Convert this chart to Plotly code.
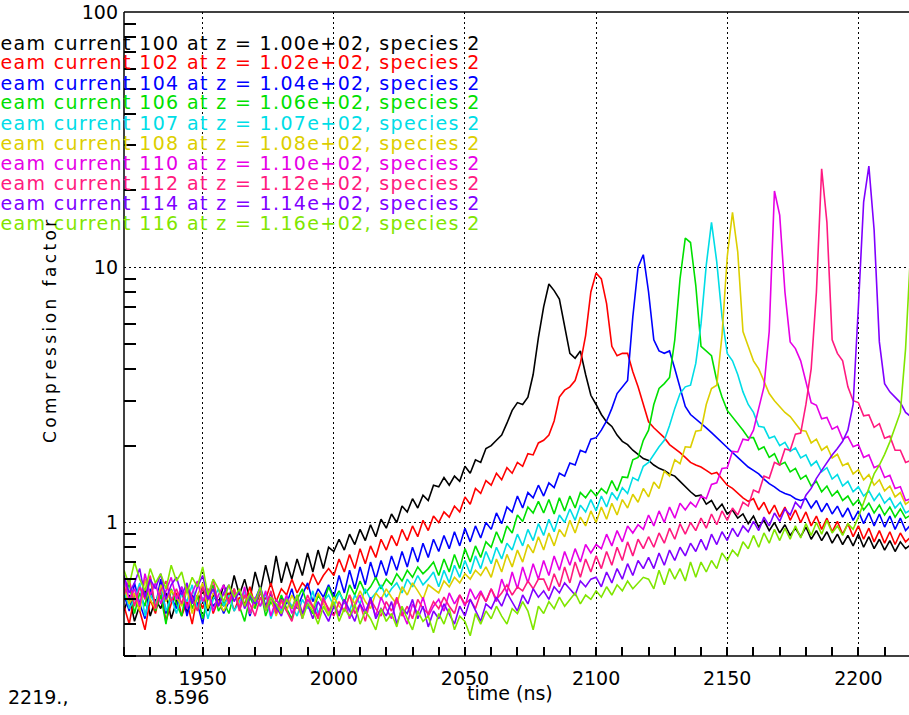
import plotly.graph_objects as go

# sample times (ns), 2-ns bins
time_ns = list(range(1920, 2221, 2))

labels = ["100", "102", "104", "106", "107", "108", "110", "112", "114", "116"]
z_values = ["1.00e+02", "1.02e+02", "1.04e+02", "1.06e+02", "1.07e+02",
            "1.08e+02", "1.10e+02", "1.12e+02", "1.14e+02", "1.16e+02"]
colors = ["#000000", "#ff0000", "#0000ff", "#00e000", "#00dde6",
          "#dccf00", "#e600e6", "#ff1a80", "#8000ff", "#80e600"]

cf_100 = [0.45,0.52,0.41,0.48,0.55,0.43,0.50,0.46,0.53,0.42,
          0.49,0.55,0.44,0.51,0.47,0.56,0.45,0.52,0.48,0.57,
          0.50,0.62,0.52,0.60,0.50,0.64,0.54,0.68,0.56,0.74,
          0.58,0.70,0.60,0.72,0.62,0.76,0.64,0.78,0.66,0.80,
          0.77,0.86,0.78,0.90,0.82,0.94,0.85,0.98,0.88,1.03,
          0.95,1.08,1.00,1.16,1.10,1.24,1.14,1.28,1.22,1.40,
          1.38,1.50,1.40,1.52,1.45,1.66,1.56,1.76,1.72,1.95,
          2.00,2.10,2.20,2.45,2.75,2.95,2.90,3.10,3.80,5.30,
          7.00,8.60,8.10,7.50,5.90,4.60,4.40,4.70,3.80,3.15,
          2.90,2.65,2.48,2.38,2.20,2.08,2.02,1.92,1.85,1.78,
          1.75,1.68,1.63,1.60,1.55,1.52,1.45,1.38,1.32,1.27,
          1.28,1.18,1.22,1.12,1.18,1.08,1.12,1.04,1.08,0.99,
          1.06,0.96,1.02,0.93,1.00,0.91,0.98,0.89,0.95,0.88,
          0.96,0.86,0.93,0.85,0.92,0.83,0.90,0.82,0.89,0.81,
          0.90,0.80,0.88,0.79,0.86,0.78,0.85,0.77,0.84,0.79,
          0.82]

cf_102 = [0.47,0.40,0.52,0.45,0.38,0.50,0.44,0.55,0.41,0.48,
          0.53,0.43,0.49,0.40,0.52,0.46,0.55,0.44,0.50,0.47,
          0.53,0.45,0.51,0.48,0.56,0.47,0.53,0.50,0.58,0.49,
          0.55,0.52,0.60,0.53,0.58,0.55,0.63,0.57,0.62,0.66,
          0.62,0.72,0.64,0.75,0.66,0.79,0.69,0.81,0.73,0.86,
          0.78,0.89,0.81,0.94,0.85,0.97,0.88,1.02,0.93,1.06,
          1.00,1.10,1.05,1.16,1.10,1.26,1.18,1.36,1.30,1.46,
          1.40,1.56,1.47,1.64,1.56,1.72,1.66,1.86,1.84,2.05,
          2.10,2.20,2.50,3.10,3.30,3.40,3.60,4.20,5.40,8.00,
          9.50,9.00,7.20,4.90,4.50,4.60,4.60,3.90,3.40,2.90,
          2.48,2.35,2.25,2.15,2.02,1.95,1.88,1.80,1.72,1.68,
          1.65,1.60,1.55,1.57,1.48,1.40,1.36,1.30,1.25,1.21,
          1.24,1.12,1.20,1.08,1.17,1.05,1.15,1.02,1.12,1.00,
          1.10,0.97,1.06,0.94,1.04,0.92,1.01,0.90,0.99,0.88,
          0.97,0.86,0.95,0.84,0.93,0.83,0.92,0.82,0.91,0.84,
          0.88]

cf_104 = [0.52,0.45,0.58,0.48,0.42,0.55,0.47,0.60,0.44,0.51,
          0.46,0.56,0.43,0.52,0.48,0.40,0.54,0.47,0.50,0.44,
          0.49,0.55,0.46,0.52,0.43,0.50,0.56,0.47,0.53,0.45,
          0.51,0.48,0.55,0.46,0.52,0.58,0.49,0.55,0.51,0.57,
          0.51,0.62,0.53,0.65,0.55,0.67,0.57,0.70,0.60,0.71,
          0.62,0.74,0.65,0.77,0.67,0.80,0.70,0.83,0.73,0.86,
          0.77,0.89,0.79,0.92,0.81,0.95,0.84,0.97,0.87,1.00,
          0.94,1.09,0.99,1.15,1.10,1.27,1.14,1.31,1.25,1.40,
          1.27,1.43,1.37,1.56,1.52,1.71,1.68,1.92,1.88,2.12,
          2.15,2.30,2.50,2.80,3.20,3.40,3.60,6.40,10.0,11.2,
          8.00,5.20,4.70,4.60,4.70,4.00,3.35,2.85,2.65,2.55,
          2.45,2.35,2.25,2.15,2.05,1.95,1.88,1.80,1.72,1.65,
          1.60,1.55,1.48,1.42,1.38,1.33,1.30,1.28,1.24,1.22,
          1.24,1.14,1.22,1.10,1.19,1.08,1.16,1.05,1.14,1.02,
          1.11,0.99,1.09,0.97,1.08,0.96,1.06,0.94,1.04,0.93,
          0.98]

cf_106 = [0.50,0.58,0.44,0.53,0.47,0.61,0.45,0.52,0.40,0.55,
          0.48,0.43,0.56,0.46,0.52,0.42,0.50,0.57,0.45,0.49,
          0.44,0.53,0.47,0.41,0.51,0.46,0.55,0.43,0.49,0.45,
          0.52,0.46,0.42,0.50,0.55,0.47,0.44,0.52,0.48,0.56,
          0.50,0.54,0.48,0.57,0.52,0.59,0.53,0.56,0.61,0.55,
          0.60,0.57,0.63,0.59,0.65,0.61,0.67,0.63,0.66,0.70,
          0.62,0.72,0.64,0.75,0.66,0.79,0.70,0.81,0.73,0.84,
          0.80,0.92,0.83,0.97,0.91,1.07,1.01,1.15,1.09,1.21,
          1.09,1.23,1.08,1.25,1.11,1.27,1.14,1.31,1.25,1.34,
          1.27,1.36,1.30,1.46,1.33,1.51,1.50,1.76,1.80,2.10,
          2.30,2.90,3.35,3.50,3.70,5.20,9.00,13.0,12.5,8.50,
          4.90,4.70,4.50,3.60,3.10,2.75,2.60,2.45,2.30,2.15,
          2.15,1.93,1.98,1.80,1.86,1.68,1.72,1.58,1.63,1.48,
          1.53,1.39,1.45,1.32,1.39,1.27,1.33,1.22,1.27,1.17,
          1.23,1.12,1.19,1.09,1.17,1.07,1.15,1.05,1.13,1.04,
          1.07]

cf_107 = [0.55,0.46,0.50,0.58,0.43,0.52,0.48,0.56,0.45,0.51,
          0.44,0.53,0.49,0.57,0.46,0.51,0.42,0.50,0.55,0.47,
          0.52,0.45,0.49,0.54,0.44,0.50,0.47,0.53,0.42,0.48,
          0.45,0.51,0.47,0.43,0.50,0.46,0.54,0.44,0.49,0.52,
          0.47,0.53,0.49,0.45,0.52,0.48,0.55,0.50,0.53,0.57,
          0.51,0.55,0.58,0.53,0.60,0.56,0.62,0.57,0.60,0.64,
          0.56,0.65,0.58,0.68,0.61,0.71,0.63,0.74,0.66,0.77,
          0.69,0.80,0.72,0.83,0.78,0.90,0.81,0.94,0.85,0.99,
          0.89,1.03,0.92,1.07,1.00,1.13,1.02,1.17,1.10,1.23,
          1.11,1.27,1.15,1.31,1.23,1.37,1.30,1.50,1.46,1.66,
          1.72,1.85,1.98,2.10,2.40,2.80,3.20,3.40,3.45,4.20,
          6.00,10.2,15.0,10.5,6.40,4.60,4.30,3.80,3.25,2.90,
          2.70,2.38,2.36,2.14,2.18,2.00,2.06,1.90,1.96,1.79,
          1.84,1.67,1.74,1.58,1.64,1.48,1.54,1.39,1.45,1.32,
          1.38,1.27,1.33,1.22,1.30,1.19,1.25,1.14,1.20,1.09,
          1.12]

cf_108 = [0.56,0.48,0.53,0.45,0.60,0.50,0.46,0.57,0.49,0.54,
          0.51,0.47,0.55,0.44,0.52,0.58,0.46,0.53,0.49,0.45,
          0.50,0.55,0.47,0.52,0.44,0.49,0.54,0.46,0.51,0.43,
          0.49,0.45,0.52,0.47,0.43,0.50,0.46,0.53,0.48,0.44,
          0.51,0.47,0.45,0.52,0.48,0.54,0.49,0.46,0.53,0.50,
          0.55,0.51,0.48,0.56,0.52,0.58,0.54,0.50,0.57,0.55,
          0.53,0.59,0.56,0.61,0.58,0.63,0.60,0.65,0.62,0.67,
          0.61,0.72,0.64,0.75,0.67,0.78,0.70,0.82,0.76,0.88,
          0.78,0.91,0.81,0.94,0.88,1.02,0.91,1.05,0.97,1.11,
          1.00,1.15,1.03,1.19,1.07,1.23,1.14,1.29,1.20,1.36,
          1.26,1.44,1.36,1.59,1.52,1.76,1.70,1.98,1.97,2.28,
          2.30,2.90,3.35,3.45,5.40,11.0,16.4,11.5,5.60,4.90,
          4.30,4.00,3.60,3.20,3.00,2.85,2.70,2.60,2.45,2.30,
          2.28,2.05,2.12,1.92,1.99,1.79,1.85,1.67,1.71,1.55,
          1.61,1.47,1.54,1.40,1.47,1.33,1.39,1.26,1.31,1.18,
          1.22]

cf_110 = [0.60,0.50,0.55,0.47,0.63,0.52,0.58,0.48,0.54,0.61,
          0.50,0.56,0.46,0.53,0.59,0.49,0.55,0.45,0.52,0.57,
          0.48,0.53,0.46,0.56,0.44,0.51,0.47,0.54,0.43,0.50,
          0.46,0.52,0.44,0.49,0.42,0.50,0.47,0.43,0.51,0.45,
          0.48,0.44,0.50,0.42,0.47,0.52,0.45,0.49,0.43,0.51,
          0.46,0.42,0.50,0.45,0.40,0.48,0.44,0.51,0.43,0.47,
          0.50,0.45,0.53,0.48,0.52,0.47,0.55,0.50,0.54,0.49,
          0.55,0.49,0.60,0.53,0.64,0.55,0.67,0.58,0.69,0.60,
          0.71,0.62,0.74,0.65,0.77,0.68,0.79,0.70,0.82,0.76,
          0.82,0.79,0.90,0.81,0.93,0.84,0.97,0.91,0.98,0.94,
          1.07,0.97,1.11,1.00,1.15,1.04,1.19,1.12,1.20,1.15,
          1.27,1.24,1.41,1.43,1.63,1.64,1.90,1.89,2.12,2.10,
          2.30,2.80,3.40,5.60,19.9,16.0,8.00,5.10,4.80,4.30,
          3.60,2.95,2.88,2.55,2.58,2.32,2.38,2.12,2.17,1.98,
          2.02,1.80,1.84,1.64,1.68,1.50,1.53,1.36,1.38,1.22,
          1.24]

cf_112 = [0.52,0.60,0.47,0.56,0.50,0.62,0.46,0.54,0.59,0.49,
          0.55,0.48,0.57,0.51,0.45,0.56,0.50,0.60,0.47,0.53,
          0.49,0.55,0.45,0.52,0.48,0.43,0.51,0.46,0.54,0.44,
          0.50,0.45,0.41,0.49,0.44,0.52,0.47,0.42,0.50,0.46,
          0.43,0.49,0.45,0.52,0.44,0.48,0.41,0.50,0.46,0.43,
          0.49,0.45,0.51,0.43,0.47,0.42,0.50,0.46,0.44,0.49,
          0.46,0.51,0.47,0.44,0.52,0.48,0.50,0.46,0.53,0.49,
          0.55,0.50,0.53,0.57,0.52,0.56,0.54,0.59,0.55,0.60,
          0.60,0.54,0.63,0.56,0.67,0.58,0.70,0.61,0.72,0.64,
          0.74,0.66,0.77,0.68,0.80,0.71,0.84,0.74,0.86,0.79,
          0.88,0.80,0.91,0.83,0.95,0.86,0.99,0.90,1.00,0.93,
          1.04,0.95,1.08,0.98,1.11,1.02,1.14,1.07,1.20,1.16,
          1.34,1.31,1.52,1.49,1.72,1.68,1.94,1.92,2.22,2.24,
          2.90,4.00,8.00,24.3,15.0,5.20,4.60,4.30,3.40,3.00,
          2.95,2.62,2.64,2.36,2.44,2.14,2.18,1.92,1.92,1.72,
          1.75]

cf_114 = [0.62,0.53,0.58,0.66,0.51,0.60,0.55,0.63,0.50,0.57,
          0.61,0.52,0.58,0.48,0.56,0.62,0.50,0.55,0.47,0.53,
          0.57,0.49,0.54,0.46,0.52,0.48,0.55,0.45,0.51,0.47,
          0.43,0.50,0.46,0.52,0.44,0.48,0.42,0.49,0.45,0.41,
          0.47,0.43,0.50,0.45,0.41,0.48,0.44,0.51,0.42,0.46,
          0.43,0.49,0.40,0.46,0.44,0.50,0.42,0.47,0.39,0.45,
          0.42,0.48,0.44,0.40,0.47,0.43,0.50,0.45,0.41,0.48,
          0.46,0.51,0.47,0.53,0.49,0.45,0.52,0.48,0.55,0.51,
          0.54,0.50,0.56,0.53,0.58,0.55,0.52,0.59,0.56,0.60,
          0.61,0.56,0.64,0.58,0.66,0.60,0.69,0.62,0.71,0.66,
          0.73,0.66,0.76,0.68,0.78,0.71,0.80,0.74,0.83,0.77,
          0.86,0.78,0.90,0.82,0.92,0.85,0.95,0.88,0.97,0.92,
          1.01,0.93,1.05,0.97,1.09,1.01,1.13,1.07,1.20,1.14,
          1.28,1.36,1.49,1.60,1.72,1.84,1.95,2.08,2.30,2.90,
          7.00,18.0,24.9,14.0,5.10,3.50,3.25,3.10,2.95,2.70,
          2.60]

cf_116 = [0.65,0.57,0.70,0.60,0.54,0.66,0.58,0.63,0.55,0.68,
          0.59,0.64,0.53,0.61,0.56,0.67,0.52,0.60,0.55,0.49,
          0.57,0.51,0.55,0.47,0.53,0.49,0.56,0.45,0.51,0.48,
          0.44,0.50,0.46,0.52,0.42,0.48,0.45,0.40,0.47,0.43,
          0.49,0.41,0.46,0.43,0.48,0.40,0.45,0.42,0.38,0.46,
          0.41,0.44,0.39,0.47,0.42,0.38,0.45,0.41,0.43,0.37,
          0.44,0.40,0.46,0.38,0.43,0.41,0.36,0.44,0.40,0.45,
          0.42,0.47,0.43,0.40,0.46,0.44,0.49,0.45,0.38,0.47,
          0.44,0.49,0.46,0.51,0.47,0.50,0.53,0.48,0.52,0.50,
          0.54,0.51,0.56,0.52,0.57,0.54,0.59,0.55,0.58,0.61,
          0.60,0.55,0.65,0.57,0.66,0.60,0.66,0.59,0.70,0.61,
          0.70,0.64,0.71,0.66,0.76,0.71,0.78,0.74,0.84,0.79,
          0.89,0.80,0.91,0.83,0.94,0.85,0.95,0.86,0.97,0.87,
          0.99,0.89,1.00,0.90,1.02,0.91,0.97,0.89,0.99,0.94,
          1.05,1.20,1.38,1.55,1.68,1.85,2.07,2.35,2.70,4.80,
          12.0]

series = [cf_100, cf_102, cf_104, cf_106, cf_107, cf_108, cf_110, cf_112, cf_114, cf_116]
for s in series:
    assert len(s) == len(time_ns), len(s)

x_ticks = [1950, 2000, 2050, 2100, 2150, 2200]
y_ticks = [1, 10, 100]
y_ticktext = ["1", "10", "100"]
y_minor = [0.3, 0.4, 0.5, 0.6, 0.7, 0.8, 0.9, 2, 3, 4, 5, 6, 7, 8, 9,
           20, 30, 40, 50, 60, 70, 80, 90]

W, H = 909, 715
L, R, T, B = 124, 0, 12, 59
PW = W - L - R
PH = H - T - B


def px_to_paper_x(px):
    return (px - L) / PW


def px_to_paper_y(py):
    return (H - B - py) / PH


fig = go.Figure()
for vals, c, lab in zip(series, colors, labels):
    fig.add_trace(go.Scatter(x=time_ns, y=vals, mode="lines",
                             line=dict(color=c, width=1.6, shape="linear"),
                             name=lab, showlegend=False))

FONT = "DejaVu Sans"

# legend-like text lines
for i, (lab, zv, c) in enumerate(zip(labels, z_values, colors)):
    txt = f"beam current {lab} at z = {zv}, species 2"
    fig.add_annotation(
        x=px_to_paper_x(-15), y=px_to_paper_y(42.5 + 20 * i),
        xref="paper", yref="paper", xanchor="left", yanchor="middle",
        text=f'<span style="letter-spacing:1.36px">{txt}</span>',
        showarrow=False, font=dict(family=FONT, size=19, color=c))

# axis titles
fig.add_annotation(x=px_to_paper_x(510), y=px_to_paper_y(693), xref="paper", yref="paper",
                   xanchor="center", yanchor="middle",
                   text="time (ns)", showarrow=False,
                   font=dict(family=FONT, size=19, color="black"))
fig.add_annotation(x=px_to_paper_x(50), y=px_to_paper_y(330), xref="paper", yref="paper",
                   xanchor="center", yanchor="middle",
                   text='<span style="letter-spacing:3.4px">Compression factor</span>',
                   textangle=-90, showarrow=False,
                   font=dict(family=FONT, size=17, color="black"))
# cursor readout
fig.add_annotation(x=px_to_paper_x(6), y=px_to_paper_y(697), xref="paper", yref="paper",
                   xanchor="left", yanchor="middle", text="2219.,", showarrow=False,
                   font=dict(family=FONT, size=19, color="black"))
fig.add_annotation(x=px_to_paper_x(153), y=px_to_paper_y(697), xref="paper", yref="paper",
                   xanchor="left", yanchor="middle", text="8.596", showarrow=False,
                   font=dict(family=FONT, size=19, color="black"))

# frame (left, bottom, top)
for x0, y0, x1, y1 in [(0, 0, 0, 1), (0, 0, 1, 0), (0, 1, 1, 1)]:
    fig.add_shape(type="line", xref="paper", yref="paper", x0=x0, y0=y0, x1=x1, y1=y1,
                  line=dict(color="black", width=1.5), layer="above")

fig.update_layout(
    width=W, height=H,
    margin=dict(l=L, r=R, t=T, b=B, pad=0, autoexpand=False),
    paper_bgcolor="white", plot_bgcolor="white",
    showlegend=False,
    xaxis=dict(range=[1920, 2219.3], tickmode="array", tickvals=x_ticks,
               ticks="", showline=False, mirror="ticks", zeroline=False,
               showgrid=True, gridcolor="black", gridwidth=1.2, griddash="2px,3px",
               ticklabelstandoff=9,
               tickfont=dict(family=FONT, size=19, color="black"),
               minor=dict(ticks="inside", tickmode="linear", tick0=1920, dtick=10,
                          ticklen=9, tickwidth=1.5, tickcolor="black", showgrid=False)),
    yaxis=dict(type="log", range=[-0.5229, 2.0], tickmode="array", tickvals=y_ticks,
               ticktext=y_ticktext, ticks="", showline=False, mirror="ticks", zeroline=False,
               showgrid=True, gridcolor="black", gridwidth=1.2, griddash="2px,3px",
               ticklabelstandoff=5,
               tickfont=dict(family=FONT, size=19, color="black"),
               minor=dict(ticks="inside", tickmode="array", tickvals=y_minor,
                          ticklen=12, tickwidth=1.5, tickcolor="black", showgrid=False)),
)

fig.write_html("out.html", config={"displayModeBar": False},
               post_script="document.body.style.margin='0';document.body.style.padding='0';")
